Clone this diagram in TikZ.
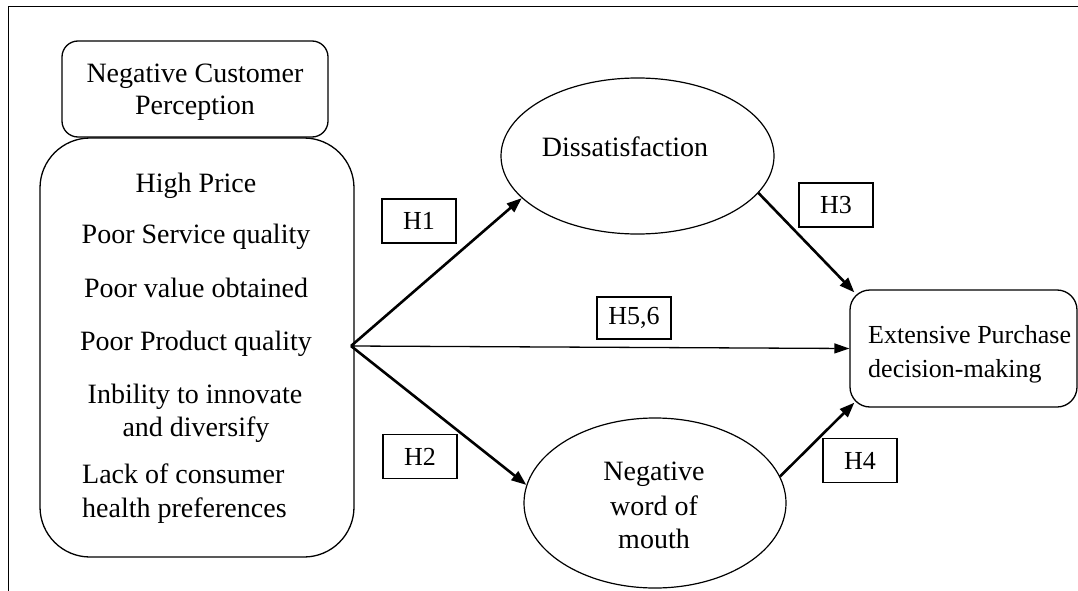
\documentclass[tikz,border=0pt]{standalone}
\usepackage{fontspec}
\setmainfont{Liberation Serif}
\usetikzlibrary{arrows.meta,shapes.geometric,calc}
\begin{document}
\begin{tikzpicture}[x=1pt,y=-1pt,
 box/.style={draw,line width=1.3pt,rounded corners=16pt,inner sep=0pt},
 oval/.style={draw,ellipse,line width=1.2pt,inner sep=0pt},
 hbox/.style={draw,line width=1.3pt,minimum width=74pt,minimum height=44pt,inner sep=0pt,font=\fontsize{26}{30}\selectfont},
 txt/.style={font=\fontsize{28}{33}\selectfont,inner sep=0pt,anchor=base},
 ltxt/.style={txt,anchor=base west},
 etxt/.style={font=\fontsize{26}{33}\selectfont,inner sep=0pt,anchor=base west},
 thickarrow/.style={line width=2.6pt,-{Triangle[length=15pt,width=11pt]}},
 thinarrow/.style={line width=1.3pt,-{Triangle[length=15pt,width=10pt]}}
]
\useasboundingbox (0,0) rectangle (1078,591);
% frame
\draw[line width=1.8pt] (1078,6.5) -- (8.5,6.5) -- (8.5,591);

% left boxes
\node[box,minimum width=266pt,minimum height=96pt] (ncp) at (195,89) {};
\node[txt] (ncp1) at (195,83) {Negative Customer};
\node[txt] (ncp2) at (195,115) {Perception};

\node[box,rounded corners=50pt,minimum width=314pt,minimum height=419pt] (attr) at (197,347.5) {};
\node[txt] (a1) at (196,192) {High Price};
\node[txt] (a2) at (196,243) {Poor Service quality};
\node[txt] (a3) at (196,297) {Poor value obtained};
\node[txt] (a4) at (196,350) {Poor Product quality};
\node[txt] (a5) at (195,403) {Inbility to innovate};
\node[txt] (a6) at (196,436) {and diversify};
\node[ltxt] (a7) at (82,483) {Lack of consumer};
\node[ltxt] (a8) at (82,517) {health preferences};

% mediators
\node[oval,minimum width=273pt,minimum height=156pt] (dis) at (637.5,156) {};
\node[txt] (dist) at (625,156) {Dissatisfaction};
\node[oval,minimum width=262pt,minimum height=170pt] (nw) at (655,503) {};
\node[txt] (nw1) at (654,480) {Negative};
\node[txt] (nw2) at (654,515) {word of};
\node[txt] (nw3) at (654,548) {mouth};

% outcome
\node[box,rounded corners=20pt,minimum width=227pt,minimum height=117pt] (ext) at (963.5,348.5) {};
\node[etxt] (e1) at (868,343) {Extensive Purchase};
\node[etxt] (e2) at (868,377) {decision-making};

% hypothesis labels
\node[hbox] (h1) at (419,221) {H1};
\node[hbox] (h2) at (420,456.5) {H2};
\node[hbox] (h3) at (836,205) {H3};
\node[hbox] (h4) at (860,460.5) {H4};
\node[hbox,minimum height=42pt] (h56) at (634,318) {H5,6};

% connectors
\coordinate (src) at (351,346);
\draw[thickarrow] (src) -- (dis.200);
\draw[thickarrow] (src) -- (nw.172);
\draw[thinarrow] (src) -- (ext.west);
\draw[thickarrow] (dis.343) -- ($(ext.north west)+(5,3)$);
\draw[thickarrow] (nw.12) -- ($(ext.south west)+(5,-5)$);
\end{tikzpicture}
\end{document}
